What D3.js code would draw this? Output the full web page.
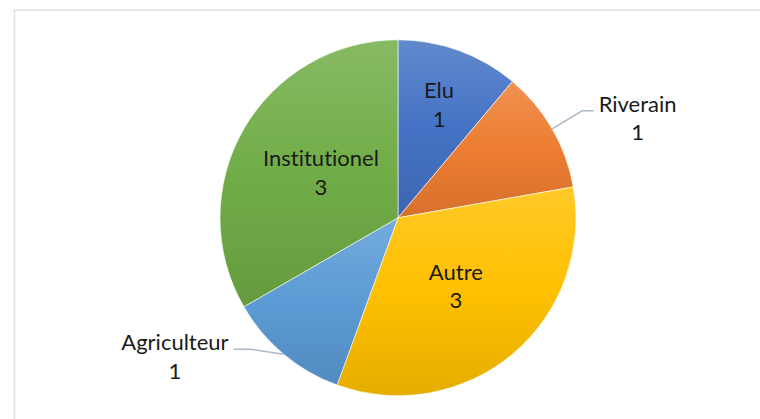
<!DOCTYPE html>
<html>
<head>
<meta charset="utf-8">
<script src="https://cdn.jsdelivr.net/npm/d3@7"></script>
<style>
  html, body { margin: 0; padding: 0; background: #fff; }
  svg { display: block; }
  text { font-variant-ligatures: none; }
</style>
</head>
<body>
<svg id="drawing_region"></svg>
<script>
// data
const categories = [ "Elu", "Riverain", "Autre", "Agriculteur", "Institutionel" ];
const values = [ 1, 1, 3, 1, 3 ];
const colors = [ "#4472C4", "#ED7D31", "#FFC000", "#5B9BD5", "#70AD47" ];

const width = 760, height = 419;
const cx = 398, cy = 217.8, radius = 178;

// label placement (radius for inside labels, leader for outside ones)
const insideRadius = { "Elu": 120, "Autre": 90, "Institutionel": 89 };
const leaders = {
    "Riverain":    { dx: 30,  dy: -18, run: 11.5 },
    "Agriculteur": { dx: -33, dy: -5,  run: -17 }
};

const data = categories.map( ( c, i ) => ({ label: c, value: values[i], color: colors[i] }) );

const svg = d3.select( "#drawing_region" )
    .attr( "width", width )
    .attr( "height", height );

// chart area border (runs off the right and bottom edge)
svg.append( "path" )
    .attr( "d", `M14.5,${height + 5} V10 H${width + 5}` )
    .attr( "fill", "none" )
    .attr( "stroke", "#dce2ea" )
    .attr( "stroke-width", 1.5 );

const defs = svg.append( "defs" );
data.forEach( ( d, i ) => {
    const base = d3.color( d.color );
    const g = defs.append( "linearGradient" )
        .attr( "id", "grad" + i )
        .attr( "x1", 0 ).attr( "y1", 0 )
        .attr( "x2", 0 ).attr( "y2", 1 );
    g.append( "stop" ).attr( "offset", 0 )
        .attr( "stop-color", d3.interpolateRgb( base, "#ffffff" )( 0.16 ) );
    g.append( "stop" ).attr( "offset", 0.5 )
        .attr( "stop-color", base.formatHex() );
    g.append( "stop" ).attr( "offset", 1 )
        .attr( "stop-color", base.darker( 0.3 ).formatHex() );
});

const pie = d3.pie()
    .value( d => d.value )
    .sort( null );

const arc = d3.arc()
    .innerRadius( 0 )
    .outerRadius( radius );

const arcs = pie( data );

const chart = svg.append( "g" )
    .attr( "transform", `translate(${cx}, ${cy})` );

chart.selectAll( "path.slice" )
    .data( arcs )
    .join( "path" )
    .attr( "class", "slice" )
    .attr( "d", arc )
    .attr( "fill", ( d, i ) => `url(#grad${i})` )
    .attr( "stroke", "#ffffff" )
    .attr( "stroke-width", 0.6 );

const mid = d => ( d.startAngle + d.endAngle ) / 2;
const polar = ( r, a ) => [ r * Math.sin( a ), -r * Math.cos( a ) ];

const fontFamily = "Lato, 'Open Sans', sans-serif";
const fontSize = 22;
const lineGap = 28.5;

arcs.forEach( d => {
    const name = d.data.label;
    const a = mid( d );

    if ( insideRadius[ name ] !== undefined ) {
        const [ x, y ] = polar( insideRadius[ name ], a );
        const t = chart.append( "text" )
            .attr( "text-anchor", "middle" )
            .attr( "font-family", fontFamily )
            .attr( "font-size", fontSize )
            .attr( "fill", "#1a1a1a" );
        t.append( "tspan" ).attr( "x", x ).attr( "y", y - 7 ).text( name );
        t.append( "tspan" ).attr( "x", x ).attr( "y", y - 7 + lineGap ).text( d.data.value );
    } else {
        const L = leaders[ name ];
        const [ ex, ey ] = polar( radius, a );
        const bx = ex + L.dx, by = ey + L.dy;
        const hx = bx + L.run;
        chart.append( "path" )
            .attr( "d", `M${ex},${ey} L${bx},${by} L${hx},${by}` )
            .attr( "fill", "none" )
            .attr( "stroke", "#adb9ca" )
            .attr( "stroke-width", 1.5 );

        const t = chart.append( "text" )
            .attr( "text-anchor", "middle" )
            .attr( "font-family", fontFamily )
            .attr( "font-size", fontSize )
            .attr( "fill", "#1a1a1a" );
        const first = t.append( "tspan" ).attr( "y", by + 1 ).text( name );
        const w = first.node().getComputedTextLength();
        const side = L.run > 0 ? 1 : -1;
        const tx = hx + side * ( 5 + w / 2 );
        first.attr( "x", tx );
        t.append( "tspan" ).attr( "x", tx ).attr( "y", by + 1 + lineGap ).text( d.data.value );
    }
});
</script>
</body>
</html>
